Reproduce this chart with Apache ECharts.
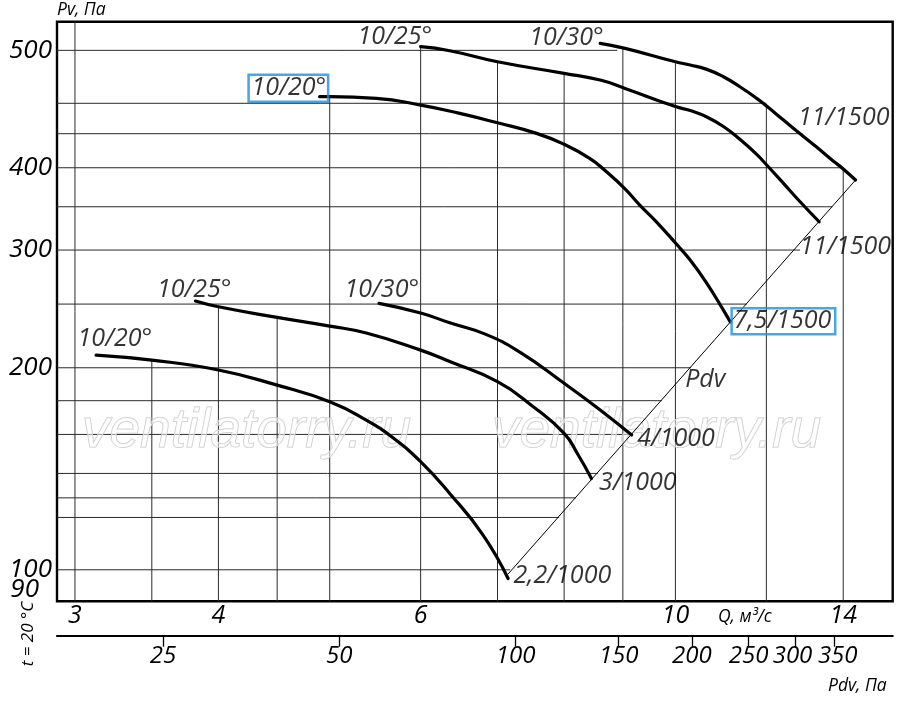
<!DOCTYPE html>
<html>
<head>
<meta charset="utf-8">
<script src="https://cdn.jsdelivr.net/npm/echarts@6/dist/echarts.min.js"></script>
<style>
  html, body { margin: 0; padding: 0; background: #fff; }
  #app { width: 900px; height: 706px; }
</style>
</head>
<body>
<div id="app"></div>
<script>
// ---- data (Q in m3/s, pressures in Pa) ----
const qTicks = [3, 4, 6, 10, 14];
const pdvTicks = [25, 50, 100, 150, 200, 250, 300, 350];
const pdvLabels = [25, 50, 100, 150, 200, 250];
const pdvCrowdedLabels = [300, 350];
const pvTicks = [100, 200, 300, 400, 500];
const pvExtraTicks = [90];

const qRange = [2.894, 15.46];
const pvRange = [84.4, 524.4];
const pdvRange = [16.48, 440.5];

// fan curves, 1500 rpm group
const qHi20 = [4.90, 5.00, 5.49, 6.00, 6.49, 7.00, 7.57, 7.99, 8.42, 8.71, 9.03, 9.31, 9.63, 10.02, 10.30, 10.65, 11.01, 11.16];
const pHi20 = [460.5, 460.5, 459.1, 453.4, 446.3, 438.3, 429.3, 420.2, 408.0, 395.1, 375.0, 354.7, 334.0, 307.3, 291.5, 271.7, 249.0, 239.1];
const qHi25 = [6.00, 6.36, 7.00, 8.00, 8.60, 9.04, 10.0, 10.30, 10.65, 11.01, 11.38, 11.77, 12.02, 12.42, 12.84, 13.34];
const pHi25 = [503.1, 499.7, 490.3, 480.4, 474.7, 467.6, 452.1, 448.7, 443.2, 435.1, 424.2, 411.4, 401.9, 381.0, 358.7, 334.4];
const qHi30 = [8.60, 9.04, 10.0, 10.30, 10.65, 11.01, 11.38, 11.77, 12.02, 12.42, 12.84, 13.28, 13.72, 13.96, 14.35];
const pHi30 = [506.0, 501.7, 490.3, 487.5, 483.8, 477.5, 469.0, 459.1, 452.1, 440.6, 429.0, 417.4, 405.8, 400.0, 385.1];
// fan curves, 1000 rpm group
const qLo20 = [3.13, 3.50, 4.00, 4.50, 5.00, 5.38, 5.68, 6.00, 6.36, 6.80, 7.15];
const pLo20 = [210.8, 206.5, 198.9, 191.4, 183.2, 174.1, 165.2, 153.5, 137.8, 117.2, 95.7];
const qLo25 = [3.82, 4.00, 4.50, 5.00, 5.38, 6.00, 6.36, 7.00, 7.52, 8.00, 8.22, 8.45];
const pLo25 = [256.7, 251.8, 242.8, 235.4, 229.5, 215.0, 205.3, 193.1, 180.7, 167.5, 157.3, 145.2];
const qLo30 = [5.52, 6.00, 6.36, 6.83, 7.32, 8.00, 8.60, 9.16];
const pLo30 = [254.7, 246.5, 238.2, 228.6, 213.3, 192.3, 179.1, 166.7];
// Pdv line through the curve ends
const qPdvLine = [7.15, 14.35];
const pPdvLine = [97.9, 385.1];

const startText = ['10/20°', '10/25°', '10/30°', '10/20°', '10/25°', '10/30°'];
const endText = ['7,5/1500', '11/1500', '11/1500', '2,2/1000', '3/1000', '4/1000'];

// grid lines stop at the curve envelope
const gridQ = [3, 3.5, 4, 4.5, 5, 6, 7, 8, 9, 10, 12, 14];
const gridQTopPa = [524.4, 206.5, 251.8, 242.8, 460.5, 503.0, 490.3, 480.4, 502.0, 490.3, 452.1, 400.0];
const gridPa = [500, 454.9, 429, 400, 352.6, 300, 254.1, 200, 183.7, 167, 147.7, 135.6, 125.9, 100];
const gridPaEndQ = [8.9, 12.0, 12.9, 14.0, 13.7, 12.84, 11.54, 10.32, 9.73, 9.17, 8.56, 8.19, 7.92, 7.18];

// ---- the printed Pv scale is irregular: piecewise between its tick marks ----
const pvScalePa = [100, 200, 300, 400, 500];
const pvScalePos = [31.6, 233.6, 351.3, 433.6, 551];

function pv(pa) {
  let i = 0;
  while (i < pvScalePa.length - 2 && pa > pvScalePa[i + 1]) i++;
  const a0 = pvScalePa[i], a1 = pvScalePa[i + 1];
  const b0 = pvScalePos[i], b1 = pvScalePos[i + 1];
  return b0 + (pa - a0) * (b1 - b0) / (a1 - a0);
}
function pvInv(u) {
  let i = 0;
  while (i < pvScalePos.length - 2 && u > pvScalePos[i + 1]) i++;
  const a0 = pvScalePa[i], a1 = pvScalePa[i + 1];
  const b0 = pvScalePos[i], b1 = pvScalePos[i + 1];
  return a0 + (u - b0) * (a1 - a0) / (b1 - b0);
}
const lg = Math.log10;
const pt = (q, pa) => [lg(q), pv(pa)];

const FONT = 'Open Sans';
const txt = { color: '#000', fontFamily: FONT, fontStyle: 'italic' };

const curves = [
  [qHi20, pHi20], [qHi25, pHi25], [qHi30, pHi30],
  [qLo20, pLo20], [qLo25, pLo25], [qLo30, pLo30]
];

const series = [];

// grid
gridQ.forEach((q, i) => {
  series.push({
    type: 'line', silent: true, z: 1, symbol: 'none',
    lineStyle: { color: '#2a2a2a', width: 1 },
    data: [pt(q, pvRange[0]), pt(q, gridQTopPa[i])]
  });
});
gridPa.forEach((pa, i) => {
  series.push({
    type: 'line', silent: true, z: 1, symbol: 'none',
    lineStyle: { color: '#2a2a2a', width: 1 },
    data: [pt(qRange[0], pa), pt(gridPaEndQ[i], pa)]
  });
});

// curves
curves.forEach(([qs, ps]) => {
  series.push({
    type: 'line', silent: true, z: 3, symbol: 'none',
    smooth: 0.5,
    lineStyle: { color: '#000', width: 3.2, cap: 'round' },
    data: qs.map((q, i) => pt(q, ps[i]))
  });
});
series.push({
  type: 'line', silent: true, z: 3, symbol: 'none',
  lineStyle: { color: '#000', width: 1 },
  data: qPdvLine.map((q, i) => pt(q, pPdvLine[i]))
});

// curve captions: [dx, dy, align] for start and end of each curve
const startPos = [[9, -8, 'right'], [12, -9, 'right'], [4, -5, 'right'], [-18, -16, 'left'], [-38, -11, 'left'], [-34, -13, 'left']];
const endPos = [[2, 0, 'left'], [-19, 26, 'left'], [-57, -62, 'left'], [6, -2, 'left'], [8, 5, 'left'], [6, 4, 'left']];
const boxed = { borderColor: '#1b8fdc', borderWidth: 2.5 };
const CAP = 25;

const labelData = [];
curves.forEach(([qs, ps], c) => {
  const s = startPos[c], e = endPos[c];
  const n = qs.length - 1;
  labelData.push({
    value: pt(qs[0], ps[0]),
    label: Object.assign({ show: true, formatter: startText[c], position: [s[0], s[1]], align: s[2], verticalAlign: 'middle', fontSize: CAP }, txt,
      c === 0 ? Object.assign({ padding: [2, 2, 0, 3] }, boxed) : {})
  });
  labelData.push({
    value: pt(qs[n], ps[n]),
    label: Object.assign({ show: true, formatter: endText[c], position: [e[0], e[1]], align: e[2], verticalAlign: 'middle', fontSize: CAP }, txt,
      c === 0 ? Object.assign({ padding: [1, 4, 0, 2] }, boxed) : {})
  });
});
labelData.push({
  value: pt(qLo30[qLo30.length - 1], pLo30[pLo30.length - 1]),
  label: Object.assign({ show: true, formatter: 'Pdv', position: [54, -55], align: 'left', verticalAlign: 'middle', fontSize: CAP }, txt)
});
series.push({
  type: 'scatter', silent: true, z: 5, symbolSize: 1,
  itemStyle: { color: 'rgba(0,0,0,0)' },
  data: labelData
});

const watermark = (x) => ({
  type: 'text', x: x, y: 432, z: 2, silent: true,
  style: {
    text: 'ventilatorry.ru', fontSize: 55, fontStyle: 'italic', fontFamily: 'Liberation Sans',
    fill: 'rgba(255,255,255,0.5)', stroke: '#c6c6c6', lineWidth: 1, verticalAlign: 'middle'
  }
});

const pvAxisBase = {
  type: 'value', min: pv(pvRange[0]), max: pv(pvRange[1]), position: 'left',
  axisLine: { show: false }, axisTick: { show: false }, splitLine: { show: false }
};
const pdvAxisBase = {
  type: 'value', position: 'bottom', offset: 34.4,
  min: lg(pdvRange[0]), max: lg(pdvRange[1]), splitLine: { show: false }
};
const pdvFormat = v => String(Math.round(Math.pow(10, v)));
const smallText = (text, x, y, extra) => ({
  type: 'text', x: x, y: y, silent: true,
  style: Object.assign({ text: text, fontSize: 17.5, fontStyle: 'italic', fontFamily: FONT, fill: '#000', verticalAlign: 'middle' }, extra || {})
});

const myChart = echarts.init(document.getElementById('app'));
myChart.setOption({
  animation: false,
  backgroundColor: '#fff',
  grid: {
    left: 57, right: 7.3, top: 21.7, bottom: 104.7,
    show: true, borderColor: '#000', borderWidth: 2.4
  },
  xAxis: [
    {
      type: 'value', min: lg(qRange[0]), max: lg(qRange[1]),
      axisLine: { show: false }, axisTick: { show: false }, splitLine: { show: false },
      axisLabel: Object.assign({
        customValues: qTicks.map(lg), margin: 2, fontSize: 25,
        formatter: v => String(Math.round(Math.pow(10, v)))
      }, txt)
    },
    Object.assign({}, pdvAxisBase, {
      axisLine: { show: true, onZero: false, lineStyle: { color: '#000', width: 2.2 } },
      axisTick: { show: true, customValues: pdvTicks.map(lg), length: 11, lineStyle: { color: '#000', width: 1.3 } },
      axisLabel: Object.assign({ customValues: pdvLabels.map(lg), margin: 8, fontSize: 24, formatter: pdvFormat }, txt)
    }),
    // the two last labels sit tight, nudged apart as in the print
    Object.assign({}, pdvAxisBase, {
      axisLine: { show: false }, axisTick: { show: false },
      axisLabel: Object.assign({
        customValues: pdvCrowdedLabels.map(lg), margin: 8, fontSize: 24,
        formatter: v => {
          const n = pdvFormat(v);
          return n === '300' ? '{l|' + n + '}' : '{r|' + n + '}';
        },
        rich: {
          l: Object.assign({ fontSize: 24, padding: [0, 5, 0, 0] }, txt),
          r: Object.assign({ fontSize: 24, padding: [0, 0, 0, 7] }, txt)
        }
      }, txt)
    })
  ],
  yAxis: [
    Object.assign({}, pvAxisBase, {
      axisLabel: Object.assign({
        customValues: pvTicks.map(pv), margin: 5, fontSize: 26,
        formatter: v => String(Math.round(pvInv(v) / 10) * 10)
      }, txt)
    }),
    Object.assign({}, pvAxisBase, {
      axisLabel: Object.assign({
        customValues: pvExtraTicks.map(pv), margin: 18, fontSize: 26,
        formatter: v => String(Math.round(pvInv(v) / 10) * 10)
      }, txt)
    })
  ],
  graphic: [
    smallText('Pv, Па', 57, 10),
    smallText('Q, м³/с', 718, 617),
    smallText('Pdv, Па', 828, 686),
    smallText('t = 20 °C', 28, 634, { align: 'center' }),
    watermark(82),
    watermark(492)
  ],
  series: series
});
// rotate the temperature note to read upwards
myChart.setOption({
  graphic: [{}, {}, {}, { rotation: Math.PI / 2, style: { fontSize: 17 } }]
});
</script>
</body>
</html>
